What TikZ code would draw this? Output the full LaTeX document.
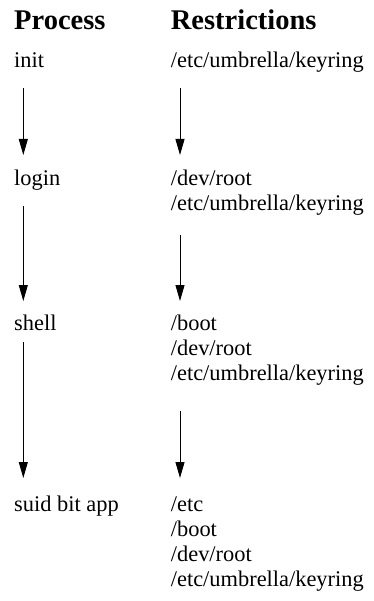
\documentclass[tikz,border=0pt]{standalone}
\usepackage{fontspec}
\setmainfont{Liberation Serif}
\usetikzlibrary{arrows.meta}
\tikzset{
  txt/.style={anchor=base west, inner sep=0pt, font=\fontsize{22.4}{25}\selectfont},
  hdr/.style={anchor=base west, inner sep=0pt, font=\fontsize{28.5}{30}\selectfont\bfseries},
  arr/.style={line width=0.9pt, -{Triangle[length=16pt,width=9pt]}}
}
\newcommand{\lines}[1]{\begin{tabular}[t]{@{}l@{}}#1\end{tabular}}
\begin{document}
\begin{tikzpicture}[x=1pt,y=-1pt]
\useasboundingbox (0,0) rectangle (373,601);
\node[hdr] (hp) at (14,29.5) {Process};
\node[hdr] (hr) at (170.7,29.5) {Restrictions};
% process column
\node[txt] (p1) at (14,68) {init};
\node[txt] (p2) at (14,186) {login};
\node[txt] (p3) at (14,330) {shell};
\node[txt] (p4) at (14,511) {suid bit app};
% restrictions column
\node[txt] (r1) at (170.7,68) {\lines{/etc/umbrella/keyring}};
\node[txt] (r2) at (170.7,186) {\lines{/dev/root\\/etc/umbrella/keyring}};
\node[txt] (r3) at (170.7,330) {\lines{/boot\\/dev/root\\/etc/umbrella/keyring}};
\node[txt] (r4) at (170.7,511) {\lines{/etc\\/boot\\/dev/root\\/etc/umbrella/keyring}};
% arrows
\draw[arr] ([shift={(9.3,20)}]p1.base west) -- ([shift={(9.3,-31)}]p2.base west);
\draw[arr] ([shift={(9.3,20)}]p2.base west) -- ([shift={(9.3,-29)}]p3.base west);
\draw[arr] ([shift={(9.3,12)}]p3.base west) -- ([shift={(9.3,-33)}]p4.base west);
\draw[arr] ([shift={(9.3,20)}]r1.base west) -- ([shift={(9.3,-31)}]r2.base west);
\draw[arr] ([shift={(9.3,49)}]r2.base west) -- ([shift={(9.3,-29)}]r3.base west);
\draw[arr] ([shift={(9.3,81)}]r3.base west) -- ([shift={(9.3,-33)}]r4.base west);
\end{tikzpicture}
\end{document}
